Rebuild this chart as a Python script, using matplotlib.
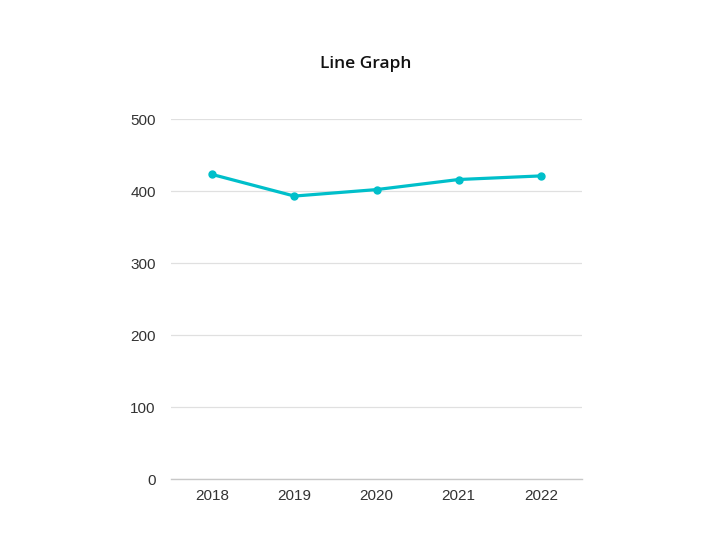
import matplotlib
matplotlib.use('Agg')
import matplotlib.pyplot as plt

# chart data
years = ['2018', '2019', '2020', '2021', '2022']
values = [423, 393, 402, 416, 421]
y_ticks = [0, 100, 200, 300, 400, 500]

fig = plt.figure(figsize=(7.28, 5.47), dpi=100)
ax = fig.add_axes([0.235, 0.1243, 0.5645, 0.6581])

x = list(range(len(years)))
ax.plot(x, values, color='#00bfca', linewidth=2.3, marker='o', markersize=5,
        solid_capstyle='round', zorder=3)

ax.set_xlim(-0.5, len(years) - 0.5)
ax.set_ylim(0, 500)
ax.set_xticks(x)
ax.set_xticklabels(years, family='Liberation Sans')
ax.set_yticks(y_ticks)
ax.set_yticklabels([str(t) for t in y_ticks], family='Liberation Sans')

ax.grid(axis='y', color='#e0e0e0', linewidth=0.9)
ax.set_axisbelow(True)
for side in ['top', 'right', 'left']:
    ax.spines[side].set_visible(False)
ax.spines['bottom'].set_color('#c8c8c8')
ax.spines['bottom'].set_linewidth(1.0)

ax.tick_params(axis='both', length=0, labelsize=11, labelcolor='#333333')
ax.tick_params(axis='y', pad=11)
ax.tick_params(axis='x', pad=7)

fig.text(0.503, 1 - 64 / 547, 'Line Graph', ha='center', va='center',
         fontsize=12.5, fontweight='semibold', family='Open Sans', color='#111111')

fig.savefig('out.png', dpi=100)
